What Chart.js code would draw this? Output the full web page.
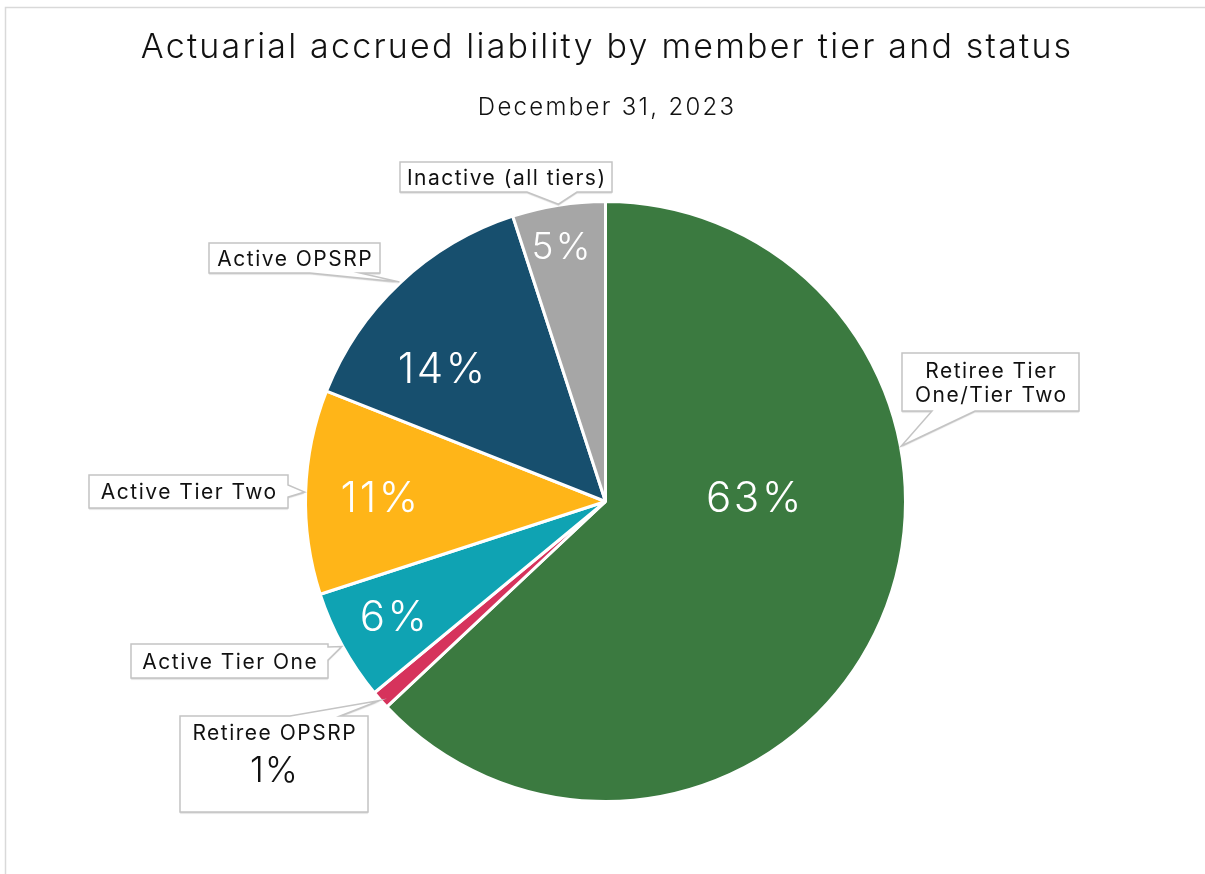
<!DOCTYPE html>
<html>
<head>
<meta charset="utf-8">
<script src="https://cdn.jsdelivr.net/npm/chart.js@4.4.1/dist/chart.umd.min.js"></script>
<style>
  html, body { margin: 0; padding: 0; background: #fff; }
  #wrap { width: 1205px; height: 874px; position: relative; }
</style>
</head>
<body>
<div id="wrap"><canvas id="pieChart" width="1205" height="874"></canvas></div>
<script>
// data
const chartTitle = 'Actuarial accrued liability by member tier and status';
const chartSubtitle = 'December 31, 2023';
const categories = ['Retiree Tier One/Tier Two', 'Retiree OPSRP', 'Active Tier One', 'Active Tier Two', 'Active OPSRP', 'Inactive (all tiers)'];
const shares = [63, 1, 6, 11, 14, 5];
const sliceColors = ['#3b7a40', '#d6335c', '#0fa3b3', '#ffb518', '#174f6e', '#a6a6a6'];
const calloutLines = [['Retiree Tier', 'One/Tier Two'], ['Retiree OPSRP'], ['Active Tier One'], ['Active Tier Two'], ['Active OPSRP'], ['Inactive (all tiers)']];

const FONT = 'Inter, "Noto Sans", sans-serif';

// where the percentages sit inside the slices (fraction along the slice, fraction of radius)
const insideLabels = [
  { along: 0.389, r: 0.494, size: 42, track: 2.6 },
  null,
  { along: 0.52, r: 0.804, size: 42, track: 2.6 },
  { along: 0.483, r: 0.754, size: 42, track: 2.6 },
  { along: 0.35, r: 0.706, size: 42, track: 2.6 },
  { along: 0.45, r: 0.864, size: 37, track: 2.2 }
];

// callout boxes: box [x, y, w, h], which side the pointer leaves from, and the base of the pointer
const callouts = [
  { box: [902, 353, 177, 58], side: 'bottom', base: [932, 975], tipAlong: 0.35 },
  { box: [180, 716, 188, 96], side: 'top', base: [290, 340], tipAlong: 0.5, showValue: true },
  { box: [131, 644, 197, 34], side: 'right', base: [647, 660], tipAlong: 0.5 },
  { box: [89, 475, 199, 33], side: 'right', base: [485, 497], tipAlong: 0.5 },
  { box: [209, 243, 171, 30], side: 'bottom', base: [310, 360], tipAlong: 0.5 },
  { box: [400, 162, 212, 30], side: 'bottom', base: [527, 577], tipAlong: 0.5 }
];

// text centred on (x, yMid) where yMid is the middle of the capitals
function capText(ctx, text, x, yMid, size, weight, track) {
  ctx.font = weight + ' ' + size + 'px ' + FONT;
  ctx.letterSpacing = track + 'px';
  ctx.textAlign = 'center';
  ctx.textBaseline = 'alphabetic';
  ctx.fillText(text, x + track / 2, yMid + size * 0.36);
}

function drawCallout(ctx, c, tip) {
  const [x, y, w, h] = c.box;
  const [a, b] = c.base;
  ctx.beginPath();
  ctx.moveTo(x, y);
  if (c.side === 'top') { ctx.lineTo(a, y); ctx.lineTo(tip.x, tip.y); ctx.lineTo(b, y); }
  ctx.lineTo(x + w, y);
  if (c.side === 'right') { ctx.lineTo(x + w, a); ctx.lineTo(tip.x, tip.y); ctx.lineTo(x + w, b); }
  ctx.lineTo(x + w, y + h);
  if (c.side === 'bottom') { ctx.lineTo(b, y + h); ctx.lineTo(tip.x, tip.y); ctx.lineTo(a, y + h); }
  ctx.lineTo(x, y + h);
  ctx.closePath();
  ctx.save();
  ctx.shadowColor = 'rgba(0,0,0,0.18)';
  ctx.shadowOffsetY = 1.5;
  ctx.shadowBlur = 1;
  ctx.fillStyle = '#fff';
  ctx.fill();
  ctx.restore();
  ctx.lineWidth = 1.5;
  ctx.strokeStyle = '#c4c4c4';
  ctx.stroke();
}

const labelPlugin = {
  id: 'sliceLabels',
  beforeDraw(chart) {
    const ctx = chart.ctx;
    ctx.save();
    ctx.strokeStyle = '#d9d9d9';
    ctx.lineWidth = 1.5;
    ctx.beginPath();
    ctx.moveTo(5.5, 874);
    ctx.lineTo(5.5, 7.5);
    ctx.lineTo(1205, 7.5);
    ctx.stroke();
    ctx.fillStyle = '#111';
    capText(ctx, chartTitle, 606, 45.5, 34, 300, 2.2);
    capText(ctx, chartSubtitle, 606, 106.5, 24, 300, 2.3);
    ctx.restore();
  },
  afterDatasetsDraw(chart) {
    const ctx = chart.ctx;
    const meta = chart.getDatasetMeta(0);
    ctx.save();
    meta.data.forEach((arc, i) => {
      const p = arc.getProps(['x', 'y', 'startAngle', 'endAngle', 'outerRadius'], true);
      const lab = insideLabels[i];
      if (lab) {
        const ang = p.startAngle + lab.along * (p.endAngle - p.startAngle);
        ctx.fillStyle = '#fff';
        capText(ctx, shares[i] + '%', p.x + Math.cos(ang) * p.outerRadius * lab.r, p.y + Math.sin(ang) * p.outerRadius * lab.r, lab.size, 300, lab.track);
      }
      const c = callouts[i];
      const tAng = p.startAngle + c.tipAlong * (p.endAngle - p.startAngle);
      const tip = { x: p.x + Math.cos(tAng) * (p.outerRadius + 1), y: p.y + Math.sin(tAng) * (p.outerRadius + 1) };
      drawCallout(ctx, c, tip);
      const [bx, by, bw, bh] = c.box;
      const cx = bx + bw / 2;
      ctx.fillStyle = '#111';
      const lines = calloutLines[i];
      if (c.showValue) {
        capText(ctx, lines[0], cx, by + 16, 21, 400, 1.5);
        capText(ctx, shares[i] + '%', cx, by + 53.5, 35, 300, 1.2);
      } else {
        const lh = 24;
        const top = by + bh / 2 - (lines.length - 1) * lh / 2;
        lines.forEach((t, k) => capText(ctx, t, cx, top + k * lh, 21, 400, 1.5));
      }
    });
    ctx.restore();
  }
};

new Chart(document.getElementById('pieChart'), {
  type: 'pie',
  data: {
    labels: categories,
    datasets: [{
      data: shares,
      backgroundColor: sliceColors,
      borderColor: '#ffffff',
      borderWidth: 3
    }]
  },
  options: {
    responsive: false,
    animation: false,
    devicePixelRatio: 1,
    layout: { padding: { left: 6, right: 0, top: 200, bottom: 71 } },
    plugins: {
      legend: { display: false },
      tooltip: { enabled: false },
      title: { display: false },
      subtitle: { display: false }
    }
  },
  plugins: [labelPlugin]
});
</script>
</body>
</html>
